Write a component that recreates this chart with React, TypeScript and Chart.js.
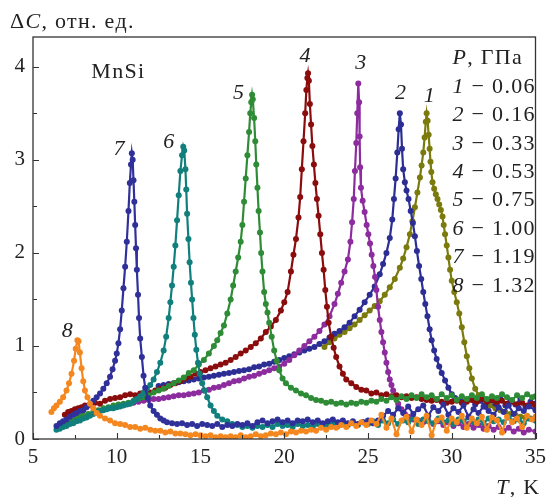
import React, { useEffect, useRef } from "react";
import { Chart, registerables } from "chart.js";

Chart.register(...registerables);

// ---- data: temperature T (K) and ΔC (arb. units) for each pressure ----
const T1 = [22.4,22.7,23.0,23.3,23.6,23.9,24.2,24.5,24.8,25.1,25.4,25.7,26.0,26.3,26.6,26.9,27.1,27.3,27.5,27.65,27.8,27.95,28.1,28.2,28.3,28.38,28.45,28.5,28.56,28.62,28.68,28.73,28.78,28.85,28.95,29.05,29.15,29.25,29.35,29.45,29.52,29.6,29.7,29.8,29.9,30.0,30.15,30.3,30.45,30.6,30.75,30.9,31.05,31.2,31.4,31.6,31.8,32.0,32.3,32.6,32.9,33.2,33.5,33.8,34.1,34.4,34.7,35.0];
const C1 = [0.99,1.04,1.08,1.12,1.15,1.19,1.23,1.28,1.33,1.38,1.43,1.48,1.55,1.63,1.72,1.84,1.94,2.06,2.2,2.34,2.49,2.65,2.81,2.94,3.08,3.24,3.41,3.5,3.42,3.27,3.12,2.98,2.87,2.76,2.69,2.63,2.58,2.52,2.46,2.39,2.3,2.2,2.08,1.95,1.82,1.7,1.58,1.47,1.35,1.2,1.04,0.89,0.76,0.65,0.54,0.47,0.43,0.39,0.36,0.33,0.31,0.29,0.27,0.26,0.24,0.23,0.22,0.2];

const T2 = [12.5,12.8,13.1,13.4,13.7,14.0,14.3,14.6,14.9,15.2,15.5,15.8,16.1,16.4,16.7,17.0,17.3,17.6,17.9,18.2,18.5,18.8,19.1,19.4,19.7,20.0,20.3,20.6,20.9,21.2,21.5,21.8,22.1,22.4,22.7,23.0,23.3,23.6,23.9,24.2,24.5,24.8,25.1,25.4,25.7,25.9,26.1,26.3,26.45,26.55,26.65,26.75,26.83,26.9,26.97,27.03,27.1,27.2,27.3,27.42,27.55,27.68,27.8,27.92,28.05,28.18,28.3,28.42,28.55,28.68,28.8,28.95,29.1,29.25,29.4,29.6,29.8,30.0,30.2,30.5,30.8,31.1,31.4,31.7,32.0,32.3,32.6,32.9,33.2,33.5,33.8,34.1,34.4,34.7,35.0];
const C2 = [0.57,0.58,0.59,0.6,0.61,0.62,0.63,0.64,0.65,0.66,0.67,0.68,0.69,0.7,0.71,0.72,0.73,0.74,0.75,0.77,0.78,0.8,0.81,0.83,0.85,0.87,0.89,0.91,0.93,0.95,0.97,0.99,1.02,1.05,1.09,1.13,1.16,1.2,1.25,1.32,1.39,1.47,1.55,1.64,1.77,1.88,2.0,2.16,2.36,2.58,2.8,3.08,3.33,3.5,3.38,3.12,2.9,2.76,2.67,2.58,2.45,2.32,2.18,2.02,1.86,1.72,1.58,1.45,1.32,1.18,1.06,0.95,0.86,0.78,0.71,0.63,0.55,0.48,0.44,0.42,0.4,0.43,0.37,0.41,0.35,0.42,0.38,0.44,0.36,0.41,0.37,0.43,0.35,0.4,0.38];

const T3 = [9.5,9.8,10.1,10.4,10.7,11.0,11.3,11.6,11.9,12.2,12.5,12.8,13.1,13.4,13.7,14.0,14.3,14.6,14.9,15.2,15.5,15.8,16.1,16.4,16.7,17.0,17.3,17.6,17.9,18.2,18.5,18.8,19.1,19.4,19.7,20.0,20.3,20.6,20.9,21.2,21.5,21.8,22.1,22.4,22.7,23.0,23.2,23.4,23.6,23.8,23.95,24.05,24.15,24.22,24.3,24.36,24.42,24.47,24.5,24.53,24.58,24.68,24.8,24.92,25.02,25.12,25.22,25.32,25.42,25.5,25.6,25.7,25.8,25.9,26.0,26.1,26.2,26.3,26.4,26.5,26.6,26.8,27.0,27.2,27.4,27.7,28.0,28.3,28.6,28.9,29.2,29.5,29.8,30.1,30.4,30.7,31.0,31.3,31.6,31.9,32.2,32.5,32.8,33.1,33.4,33.7,34.0,34.3,34.6,35.0];
const C3 = [0.33,0.35,0.36,0.37,0.38,0.39,0.4,0.41,0.42,0.43,0.43,0.44,0.45,0.46,0.47,0.47,0.48,0.49,0.5,0.52,0.53,0.55,0.56,0.58,0.6,0.62,0.63,0.65,0.67,0.68,0.7,0.72,0.74,0.76,0.78,0.81,0.85,0.9,0.95,1.0,1.05,1.1,1.16,1.23,1.32,1.45,1.56,1.68,1.8,1.93,2.12,2.33,2.58,2.88,3.18,3.5,3.82,3.62,3.25,2.92,2.7,2.56,2.44,2.3,2.2,2.1,1.98,1.86,1.74,1.6,1.42,1.28,1.15,1.04,0.93,0.82,0.72,0.64,0.58,0.52,0.46,0.38,0.32,0.27,0.24,0.21,0.2,0.18,0.2,0.16,0.19,0.15,0.18,0.14,0.17,0.13,0.16,0.12,0.15,0.11,0.14,0.1,0.13,0.09,0.12,0.08,0.11,0.07,0.1,0.08];

const T4 = [6.9,7.1,7.3,7.5,7.7,7.9,8.1,8.4,8.7,9.0,9.3,9.6,9.9,10.2,10.5,10.8,11.1,11.4,11.7,12.0,12.3,12.6,12.9,13.2,13.5,13.8,14.1,14.4,14.7,15.0,15.3,15.6,15.9,16.2,16.5,16.8,17.1,17.4,17.7,18.0,18.3,18.6,18.9,19.2,19.5,19.8,20.0,20.2,20.4,20.55,20.7,20.85,20.95,21.05,21.15,21.25,21.32,21.38,21.42,21.47,21.53,21.6,21.68,21.77,21.86,21.95,22.05,22.15,22.25,22.35,22.45,22.55,22.65,22.8,22.95,23.1,23.3,23.5,23.7,24.0,24.3,24.6,24.9,25.2,25.5,25.8,26.1,26.4,26.7,27.0,27.3,27.6,27.9,28.2,28.5,28.8,29.1,29.4,29.7,30.0,30.3,30.6,30.9,31.2,31.5,31.8,32.1,32.4,32.7,33.0,33.3,33.6,33.9,34.2,34.5,34.8,35.0];
const C4 = [0.26,0.29,0.3,0.32,0.33,0.34,0.36,0.37,0.39,0.38,0.41,0.43,0.44,0.45,0.47,0.48,0.47,0.49,0.51,0.5,0.52,0.54,0.55,0.58,0.6,0.62,0.65,0.67,0.7,0.72,0.74,0.76,0.78,0.8,0.82,0.85,0.88,0.92,0.95,0.99,1.03,1.08,1.15,1.21,1.28,1.38,1.47,1.58,1.8,1.98,2.15,2.38,2.6,2.9,3.2,3.5,3.75,3.88,3.93,3.85,3.6,3.38,3.15,2.95,2.75,2.58,2.4,2.2,2.0,1.82,1.6,1.42,1.25,1.1,0.98,0.88,0.78,0.7,0.64,0.6,0.56,0.53,0.52,0.49,0.5,0.47,0.48,0.46,0.47,0.45,0.46,0.44,0.45,0.43,0.42,0.41,0.42,0.4,0.39,0.4,0.41,0.39,0.4,0.42,0.4,0.43,0.4,0.42,0.39,0.41,0.38,0.4,0.37,0.39,0.36,0.38,0.35];

const T5 = [6.6,6.8,7.0,7.2,7.4,7.6,7.8,8.0,8.3,8.6,8.9,9.2,9.5,9.8,10.1,10.4,10.7,11.0,11.3,11.6,11.9,12.2,12.5,12.8,13.1,13.4,13.7,14.0,14.3,14.6,14.9,15.2,15.5,15.8,16.0,16.2,16.4,16.6,16.8,16.95,17.1,17.25,17.4,17.5,17.6,17.7,17.8,17.9,17.97,18.03,18.08,18.12,18.2,18.27,18.33,18.4,18.47,18.55,18.62,18.7,18.8,18.9,19.0,19.1,19.25,19.4,19.55,19.7,19.9,20.1,20.4,20.7,21.0,21.3,21.6,21.9,22.2,22.5,22.8,23.1,23.4,23.7,24.0,24.3,24.6,24.9,25.2,25.5,25.8,26.1,26.4,26.7,27.0,27.3,27.6,27.9,28.2,28.5,28.8,29.1,29.4,29.7,30.0,30.3,30.6,30.9,31.2,31.5,31.8,32.1,32.4,32.7,33.0,33.3,33.6,33.9,34.2,34.5,34.8,35.0];
const C5 = [0.12,0.14,0.16,0.18,0.2,0.22,0.24,0.25,0.27,0.29,0.31,0.33,0.34,0.36,0.37,0.38,0.39,0.41,0.43,0.45,0.47,0.5,0.52,0.54,0.57,0.6,0.63,0.66,0.71,0.74,0.8,0.85,0.92,1.0,1.06,1.14,1.22,1.35,1.5,1.65,1.8,1.95,2.12,2.3,2.55,2.8,3.05,3.3,3.5,3.62,3.7,3.65,3.45,3.2,2.95,2.7,2.45,2.22,2.0,1.8,1.58,1.45,1.36,1.25,1.1,0.95,0.84,0.74,0.65,0.6,0.55,0.52,0.49,0.47,0.44,0.42,0.41,0.39,0.4,0.38,0.39,0.37,0.39,0.38,0.4,0.39,0.41,0.4,0.43,0.41,0.45,0.42,0.46,0.43,0.47,0.44,0.48,0.45,0.47,0.43,0.48,0.44,0.47,0.42,0.46,0.43,0.47,0.44,0.48,0.43,0.46,0.44,0.48,0.45,0.42,0.47,0.44,0.48,0.45,0.46];

const T6 = [6.4,6.6,6.8,7.0,7.2,7.4,7.6,7.8,8.0,8.2,8.4,8.6,8.8,9.0,9.2,9.4,9.6,9.8,10.0,10.2,10.4,10.6,10.8,11.0,11.2,11.4,11.6,11.8,12.0,12.2,12.4,12.6,12.8,12.95,13.1,13.2,13.3,13.4,13.5,13.6,13.7,13.8,13.9,13.97,14.03,14.1,14.15,14.2,14.28,14.35,14.43,14.5,14.58,14.66,14.75,14.85,14.95,15.1,15.25,15.4,15.6,15.8,16.0,16.3,16.6,16.9,17.2,17.5,17.8,18.1,18.4,18.7,19.0,19.3,19.6,19.9,20.2,20.5,20.8,21.1,21.4,21.7,22.0,22.3,22.6,22.9,23.2,23.5,23.8,24.1,24.4,24.7,25.0,25.3,25.6,25.9,26.2,26.5,26.8,27.1,27.4,27.7,28.0,28.3,28.6,28.9,29.2,29.5,29.8,30.1,30.4,30.7,31.0,31.3,31.6,31.9,32.2,32.5,32.8,33.1,33.4,33.7,34.0,34.3,34.6,35.0];
const C6 = [0.1,0.11,0.13,0.14,0.16,0.17,0.19,0.2,0.22,0.23,0.25,0.27,0.29,0.3,0.31,0.32,0.33,0.33,0.34,0.35,0.36,0.37,0.38,0.4,0.43,0.46,0.5,0.54,0.58,0.64,0.72,0.82,0.95,1.1,1.3,1.47,1.65,1.85,2.08,2.35,2.62,2.88,3.05,3.14,3.1,2.9,2.68,2.42,2.15,1.9,1.68,1.5,1.3,1.12,0.96,0.82,0.7,0.6,0.52,0.45,0.36,0.3,0.25,0.21,0.19,0.16,0.15,0.13,0.14,0.12,0.14,0.13,0.15,0.13,0.16,0.14,0.15,0.13,0.16,0.14,0.15,0.13,0.16,0.14,0.15,0.17,0.14,0.16,0.15,0.17,0.15,0.18,0.16,0.19,0.15,0.2,0.17,0.21,0.16,0.2,0.18,0.22,0.16,0.21,0.19,0.17,0.22,0.18,0.2,0.16,0.21,0.19,0.23,0.18,0.21,0.17,0.22,0.19,0.21,0.18,0.23,0.19,0.21,0.17,0.22,0.2];

const T7 = [6.4,6.6,6.8,7.0,7.2,7.4,7.6,7.8,8.0,8.2,8.4,8.6,8.8,9.0,9.2,9.4,9.6,9.75,9.9,10.0,10.1,10.2,10.3,10.4,10.5,10.6,10.7,10.78,10.85,10.9,10.95,11.0,11.05,11.1,11.15,11.2,11.27,11.33,11.4,11.5,11.6,11.7,11.85,12.0,12.2,12.4,12.6,12.8,13.0,13.3,13.6,13.9,14.2,14.5,14.8,15.1,15.4,15.7,16.0,16.3,16.6,16.9,17.2,17.5,17.8,18.1,18.4,18.7,19.0,19.3,19.6,19.9,20.2,20.5,20.8,21.1,21.4,21.7,22.0,22.3,22.6,22.9,23.2,23.5,23.8,24.1,24.4,24.7,25.0,25.3,25.6,25.9,26.2,26.5,26.8,27.1,27.4,27.7,28.0,28.3,28.6,28.9,29.2,29.5,29.8,30.1,30.4,30.7,31.0,31.3,31.6,31.9,32.2,32.5,32.8,33.1,33.4,33.7,34.0,34.3,34.6,35.0];
const C7 = [0.14,0.17,0.19,0.21,0.24,0.26,0.28,0.3,0.31,0.34,0.37,0.41,0.45,0.49,0.54,0.6,0.67,0.75,0.84,0.92,1.03,1.18,1.38,1.62,1.85,2.12,2.45,2.75,2.95,3.07,3.0,2.78,2.55,2.3,2.05,1.82,1.55,1.3,1.08,0.88,0.68,0.55,0.44,0.36,0.3,0.26,0.22,0.2,0.18,0.17,0.16,0.17,0.15,0.16,0.14,0.16,0.15,0.14,0.16,0.13,0.15,0.14,0.16,0.15,0.17,0.14,0.18,0.2,0.17,0.19,0.21,0.18,0.2,0.17,0.2,0.19,0.21,0.18,0.2,0.17,0.19,0.21,0.18,0.2,0.17,0.19,0.16,0.18,0.2,0.17,0.2,0.25,0.3,0.26,0.33,0.28,0.35,0.27,0.32,0.36,0.25,0.34,0.3,0.37,0.26,0.33,0.29,0.36,0.24,0.32,0.28,0.35,0.3,0.26,0.34,0.29,0.36,0.27,0.33,0.3,0.35,0.31];

const T8 = [6.1,6.25,6.4,6.6,6.8,7.0,7.15,7.3,7.45,7.55,7.65,7.72,7.8,7.9,8.0,8.1,8.25,8.4,8.6,8.8,9.0,9.3,9.6,9.9,10.2,10.5,10.8,11.1,11.4,11.7,12.0,12.3,12.6,12.9,13.2,13.5,13.8,14.1,14.4,14.7,15.0,15.3,15.6,15.9,16.2,16.5,16.8,17.1,17.4,17.7,18.0,18.3,18.6,18.9,19.2,19.5,19.8,20.1,20.4,20.7,21.0,21.3,21.6,21.9,22.2,22.5,22.8,23.1,23.4,23.7,24.0,24.3,24.6,24.9,25.2,25.5,25.8,26.1,26.4,26.7,27.0,27.3,27.6,27.9,28.2,28.5,28.8,29.1,29.4,29.7,30.0,30.3,30.6,30.9,31.2,31.5,31.8,32.1,32.4,32.7,33.0,33.3,33.6,33.9,34.2,34.5,34.8,35.0];
const C8 = [0.29,0.33,0.36,0.4,0.45,0.52,0.6,0.7,0.84,0.97,1.06,1.05,0.93,0.76,0.62,0.52,0.45,0.38,0.33,0.28,0.25,0.22,0.2,0.17,0.16,0.15,0.13,0.13,0.11,0.12,0.1,0.09,0.09,0.07,0.08,0.06,0.06,0.05,0.04,0.05,0.04,0.03,0.04,0.02,0.03,0.02,0.03,0.02,0.04,0.02,0.03,0.05,0.03,0.04,0.06,0.05,0.07,0.05,0.08,0.07,0.09,0.08,0.1,0.09,0.12,0.1,0.13,0.12,0.15,0.13,0.17,0.14,0.18,0.15,0.2,0.16,0.26,0.12,0.22,0.05,0.2,0.24,0.08,0.21,0.15,0.25,0.04,0.2,0.23,0.09,0.22,0.18,0.25,0.12,0.22,0.17,0.24,0.1,0.23,0.2,0.07,0.24,0.18,0.22,0.13,0.25,0.21,0.24];

const SERIES_IDS = ["1", "2", "3", "4", "5", "6", "7", "8"];
const PRESSURES = ["0.06", "0.16", "0.33", "0.53", "0.75", "1.00", "1.19", "1.32"];
const TS = [T1, T2, T3, T4, T5, T6, T7, T8];
const CS = [C1, C2, C3, C4, C5, C6, C7, C8];
const COLORS = ["#7b7b0d", "#2c2e94", "#8c2c9e", "#8a0c0c", "#2f8c36", "#117f7c", "#30309a", "#f5871f"];

// curve number labels placed in data coordinates (T, ΔC)
const LABEL_T = [28.69, 26.98, 24.61, 21.28, 17.3, 13.14, 10.17, 7.08];
const LABEL_C = [3.68, 3.72, 4.04, 4.11, 3.72, 3.19, 3.11, 1.16];

const X_MIN = 5, X_MAX = 35, X_STEP = 5, X_MINOR = 2.5;
const Y_MIN = 0, Y_MAX = 4.32, Y_STEP = 1, Y_MINOR = 0.5;

const FAMILY = "'Liberation Serif', 'Times New Roman', serif";
const FS = 21;
const TFS = 22;
const INK = "#222";

type Part = { t: string; i?: boolean };

function drawParts(ctx: CanvasRenderingContext2D, parts: Part[], x: number, y: number, align: "left" | "center" | "right") {
  (ctx as any).letterSpacing = "1.3px";
  let total = 0;
  const widths = parts.map((p) => {
    ctx.font = `${p.i ? "italic " : ""}${TFS}px ${FAMILY}`;
    const w = ctx.measureText(p.t).width;
    total += w;
    return w;
  });
  let cx = align === "left" ? x : align === "right" ? x - total : x - total / 2;
  ctx.textAlign = "left";
  parts.forEach((p, k) => {
    ctx.font = `${p.i ? "italic " : ""}${TFS}px ${FAMILY}`;
    ctx.fillText(p.t, cx, y);
    cx += widths[k];
  });
  (ctx as any).letterSpacing = "0px";
}

const decorPlugin = {
  id: "decor",
  afterDatasetsDraw(chart: any) {
    const { ctx, chartArea: a, scales } = chart;
    const xs = scales.x, ys = scales.y;
    ctx.save();
    // frame
    ctx.strokeStyle = "#333";
    ctx.lineWidth = 1.3;
    ctx.strokeRect(a.left, a.top, a.right - a.left, a.bottom - a.top);
    // inward ticks
    ctx.lineWidth = 1.1;
    ctx.beginPath();
    for (let v = X_MIN; v <= X_MAX + 1e-9; v += X_MINOR) {
      const px = Math.round(xs.getPixelForValue(v)) + 0.5;
      const major = Math.abs(v / X_STEP - Math.round(v / X_STEP)) < 1e-6;
      ctx.moveTo(px, a.bottom);
      ctx.lineTo(px, a.bottom - (major ? 6 : 4));
    }
    for (let v = Y_MIN; v <= Y_MAX + 1e-9; v += Y_MINOR) {
      const py = Math.round(ys.getPixelForValue(v)) + 0.5;
      const major = Math.abs(v / Y_STEP - Math.round(v / Y_STEP)) < 1e-6;
      ctx.moveTo(a.left, py);
      ctx.lineTo(a.left + (major ? 6 : 4), py);
    }
    ctx.stroke();

    ctx.fillStyle = INK;
    ctx.textBaseline = "middle";
    // curve labels
    SERIES_IDS.forEach((id, k) => {
      drawParts(ctx, [{ t: id, i: true }], xs.getPixelForValue(LABEL_T[k]), ys.getPixelForValue(LABEL_C[k]), "center");
    });
    // material
    drawParts(ctx, [{ t: "MnSi" }], xs.getPixelForValue(10.1), ys.getPixelForValue(3.94), "center");
    // legend block
    const lx = a.right - 83;
    drawParts(ctx, [{ t: "P", i: true }, { t: ", ГПа" }], lx, a.top + 21, "left");
    SERIES_IDS.forEach((id, k) => {
      drawParts(ctx, [{ t: id, i: true }, { t: " − " + PRESSURES[k] }], lx, a.top + 50 + k * 28.4, "left");
    });
    // axis titles
    ctx.textBaseline = "alphabetic";
    drawParts(ctx, [{ t: "Δ" }, { t: "C", i: true }, { t: ", отн. ед." }], 10, 28, "left");
    drawParts(ctx, [{ t: "T", i: true }, { t: ", K" }], a.right + 5, 494, "right");
    ctx.restore();
  },
};

export default function App() {
  const ref = useRef<HTMLCanvasElement | null>(null);
  useEffect(() => {
    if (!ref.current) return;
    const datasets = SERIES_IDS.map((id, k) => ({
      label: id,
      data: TS[k].map((t, i) => ({ x: t, y: CS[k][i] })).filter((p) => p.y !== undefined),
      showLine: true,
      borderColor: COLORS[k],
      backgroundColor: COLORS[k],
      borderWidth: 2.2,
      pointRadius: 3,
      pointBorderWidth: 0,
      pointHoverRadius: 0,
      order: 8 - k,
    }));
    const chart = new Chart(ref.current, {
      type: "scatter",
      data: { datasets },
      options: {
        responsive: false,
        animation: false,
        events: [],
        layout: { padding: { left: 0, top: 37, right: 14, bottom: 0 } },
        plugins: { legend: { display: false }, tooltip: { enabled: false }, title: { display: false } },
        scales: {
          x: {
            type: "linear",
            min: X_MIN,
            max: X_MAX,
            grid: { display: false, drawTicks: false },
            border: { display: false },
            ticks: { stepSize: X_STEP, color: INK, font: { family: FAMILY, size: FS }, padding: 6, maxRotation: 0, autoSkip: false, includeBounds: false },
            afterFit: (s: any) => { s.height = 58; },
          },
          y: {
            type: "linear",
            min: Y_MIN,
            max: Y_MAX,
            grid: { display: false, drawTicks: false },
            border: { display: false },
            ticks: { stepSize: Y_STEP, color: INK, font: { family: FAMILY, size: FS }, padding: 8, autoSkip: false, includeBounds: false },
            afterFit: (s: any) => { s.width = 33; },
          },
        },
      },
      plugins: [decorPlugin],
    });
    return () => chart.destroy();
  }, []);
  return (
    <div style={{ position: "fixed", left: 0, top: 0, width: 552, height: 497, background: "#fff" }}>
      <canvas ref={ref} width={552} height={497} style={{ display: "block" }} />
    </div>
  );
}
